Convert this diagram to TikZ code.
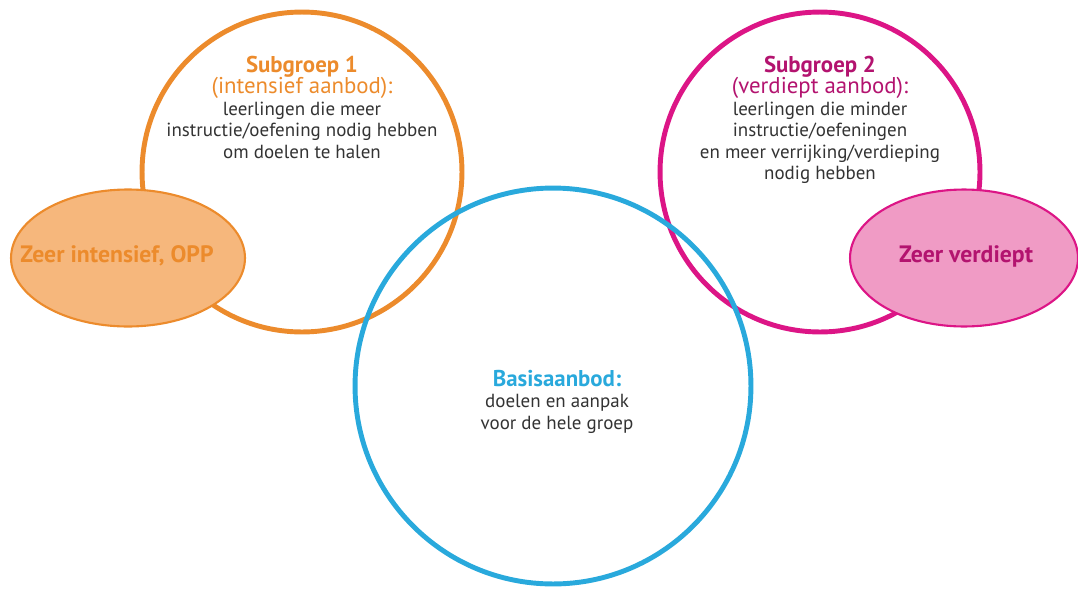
\documentclass[tikz,border=0pt]{standalone}
\usepackage{fontspec}
\setmainfont{PT Sans}
\usepackage{xcolor}
\usepackage{tikz}
\usetikzlibrary{positioning,shapes.geometric}
\definecolor{oranje}{HTML}{EC8B2C}
\definecolor{oranjevul}{HTML}{F6B77C}
\definecolor{roze}{HTML}{DC1586}
\definecolor{rozevul}{HTML}{F09BC5}
\definecolor{rozetekst}{HTML}{B3136F}
\definecolor{blauw}{HTML}{29A9DC}
\definecolor{tekst}{HTML}{333333}
\newcommand{\kop}{\fontsize{13}{12.2}\selectfont}
\tikzset{
  ring/.style={circle,draw=#1,line width=2.8pt,inner sep=0pt},
  blob/.style={ellipse,draw=#1,line width=1.2pt,inner sep=0pt},
  uitleg/.style={align=center,text=tekst,font=\fontsize{10.8}{12.2}\selectfont},
  label uiterst/.style={font=\bfseries\fontsize{13.5}{14}\selectfont,text=#1}
}
\begin{document}
\begin{tikzpicture}[x=0.02cm,y=-0.02cm]
\useasboundingbox (0,0) rectangle (1078,589);
% de drie groepen
\node[ring=oranje,minimum size=6.4cm] (sub1) at (302,172) {};
\node[ring=roze,minimum size=6.4cm] (sub2) at (820,172) {};
\node[ring=blauw,minimum size=7.92cm] (basis) at (553,386) {};
% de uitersten
\node[blob=oranje,fill=oranjevul,minimum width=4.68cm,minimum height=2.74cm] (intens) at (128,258) {};
\node[blob=roze,fill=rozevul,minimum width=4.56cm,minimum height=2.74cm] (verdiept) at (964,258) {};
% teksten
\node[uitleg,anchor=north] (tsub1) at (302,50) {{\bfseries\color{oranje}\kop Subgroep 1}\\
  {\color{oranje}\kop(intensief aanbod):}\\
  leerlingen die meer\\ instructie/oefening nodig hebben\\ om doelen te halen};
\node[uitleg,anchor=north] (tsub2) at (820,50) {{\bfseries\color{rozetekst}\kop Subgroep 2}\\
  {\color{rozetekst}\kop(verdiept aanbod):}\\
  leerlingen die minder\\ instructie/oefeningen\\ en meer verrijking/verdieping\\ nodig hebben};
\node[uitleg,anchor=north] (tbasis) at (557,364) {{\bfseries\color{blauw}\kop Basisaanbod:}\\
  doelen en aanpak\\ voor de hele groep};
\node[label uiterst=oranje] (tintens) at (117,256) {Zeer intensief, OPP};
\node[label uiterst=rozetekst] (tverdiept) at (966,256) {Zeer verdiept};
\end{tikzpicture}
\end{document}
